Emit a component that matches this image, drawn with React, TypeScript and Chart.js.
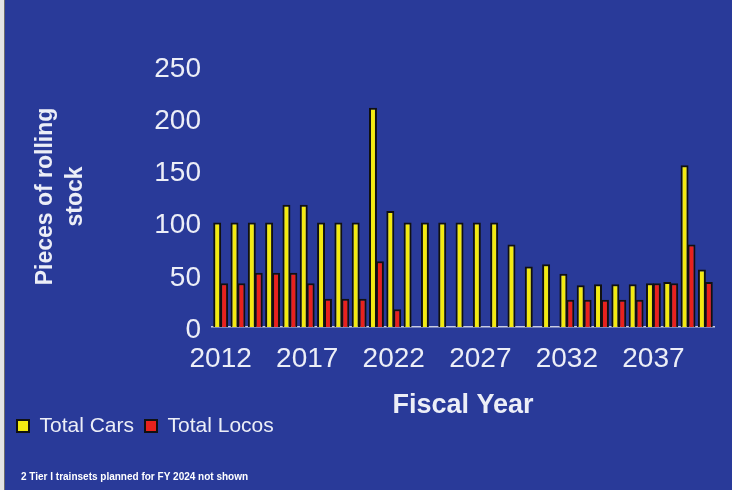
import React, { useEffect, useRef } from "react";
import { Chart, registerables } from "chart.js";

Chart.register(...registerables);

const years = [
  "2012", "2013", "2014", "2015", "2016", "2017", "2018", "2019", "2020", "2021",
  "2022", "2023", "2024", "2025", "2026", "2027", "2028", "2029", "2030", "2031",
  "2032", "2033", "2034", "2035", "2036", "2037", "2038", "2039", "2040",
];
const totalCars = [
  100, 100, 100, 100, 117, 117, 100, 100, 100, 210,
  111, 100, 100, 100, 100, 100, 100, 79, 58, 60,
  51, 40, 41, 41, 41, 42, 43, 155, 55,
];
const totalLocos = [
  42, 42, 52, 52, 52, 42, 27, 27, 27, 63,
  17, 0, 0, 0, 0, 0, 0, 0, 0, 0,
  26, 26, 26, 26, 26, 42, 42, 79, 43,
];
const xTickLabels = ["2012", "2017", "2022", "2027", "2032", "2037"];
const yTickValues = [0, 50, 100, 150, 200, 250];
const seriesNames = ["Total Cars", "Total Locos"];
const yTitle = ["Pieces of rolling", "stock"];
const xTitle = "Fiscal Year";
const footnote = "2 Tier I trainsets planned for FY 2024 not shown";

const BG = "#293a99";
const TEXT = "#eceef7";
const FONT = "'Liberation Sans', Arial, sans-serif";

const backgroundPlugin = {
  id: "bgPlugin",
  beforeDraw(chart: any) {
    const { ctx, width, height } = chart;
    ctx.save();
    ctx.fillStyle = BG;
    ctx.fillRect(0, 0, width, height);
    ctx.fillStyle = "#e4e4e4";
    ctx.fillRect(0, 0, 4, height);
    ctx.fillStyle = "#6d6d6d";
    ctx.fillRect(4, 0, 1, height);
    ctx.restore();
  },
};

const footnotePlugin = {
  id: "footnotePlugin",
  afterDraw(chart: any) {
    const { ctx } = chart;
    ctx.save();
    ctx.font = `bold 10px ${FONT}`;
    ctx.fillStyle = "#ffffff";
    ctx.textBaseline = "middle";
    ctx.textAlign = "left";
    ctx.fillText(footnote, 21, 477.5);
    ctx.restore();
  },
};

export default function App() {
  const ref = useRef<HTMLCanvasElement>(null);

  useEffect(() => {
    document.body.style.margin = "0";
    const canvas = ref.current!;
    const chart = new Chart(canvas, {
      type: "bar",
      data: {
        labels: years,
        datasets: [
          {
            label: seriesNames[0],
            data: totalCars,
            backgroundColor: "#f3ea12",
            borderColor: "#111111",
            borderWidth: 2,
            categoryPercentage: 0.8,
            barPercentage: 1.15,
          },
          {
            label: seriesNames[1],
            data: totalLocos,
            backgroundColor: "#e8221d",
            borderColor: "#111111",
            borderWidth: 2,
            categoryPercentage: 0.8,
            barPercentage: 1.15,
          },
        ],
      },
      options: {
        responsive: false,
        animation: false,
        layout: { padding: { left: 6, right: 18, top: 66, bottom: 43.5 } },
        plugins: {
          legend: {
            position: "bottom",
            align: "start",
            labels: {
              boxWidth: 12,
              boxHeight: 12,
              padding: 11,
              color: TEXT,
              font: { family: FONT, size: 21 },
            },
          },
          tooltip: { enabled: false },
          title: { display: false },
        },
        scales: {
          x: {
            grid: { display: false, drawTicks: false },
            border: { display: true, color: "#c9cce2", width: 1.5, dash: [2, 2] },
            ticks: {
              autoSkip: false,
              maxRotation: 0,
              minRotation: 0,
              padding: 15,
              color: TEXT,
              font: { family: FONT, size: 28 },
              callback: function (this: any, value: any) {
                const l = this.getLabelForValue(value);
                return xTickLabels.includes(l) ? l : "";
              },
            },
            title: {
              display: true,
              text: xTitle,
              color: TEXT,
              font: { family: FONT, size: 27, weight: "bold" },
              padding: { top: 0, bottom: -17 },
            },
            afterFit(scale: any) {
              scale.height = 77.5;
            },
          },
          y: {
            min: 0,
            max: 250,
            grid: { display: false, drawTicks: false },
            border: { display: false },
            afterBuildTicks(scale: any) {
              scale.ticks = yTickValues.map((v) => ({ value: v }));
            },
            ticks: {
              padding: 11,
              labelOffset: 3,
              color: TEXT,
              font: { family: FONT, size: 28 },
            },
            title: {
              display: true,
              text: yTitle,
              color: TEXT,
              font: { family: FONT, size: 23, weight: "bold", lineHeight: 1.3 },
              padding: { top: 25, bottom: 0 },
            },
            afterFit(scale: any) {
              scale.width = 206;
            },
          },
        },
      },
      plugins: [backgroundPlugin, footnotePlugin],
    });
    return () => chart.destroy();
  }, []);

  return (
    <div style={{ width: 732, height: 490 }}>
      <canvas ref={ref} width={732} height={490} style={{ display: "block", width: 732, height: 490 }} />
    </div>
  );
}
